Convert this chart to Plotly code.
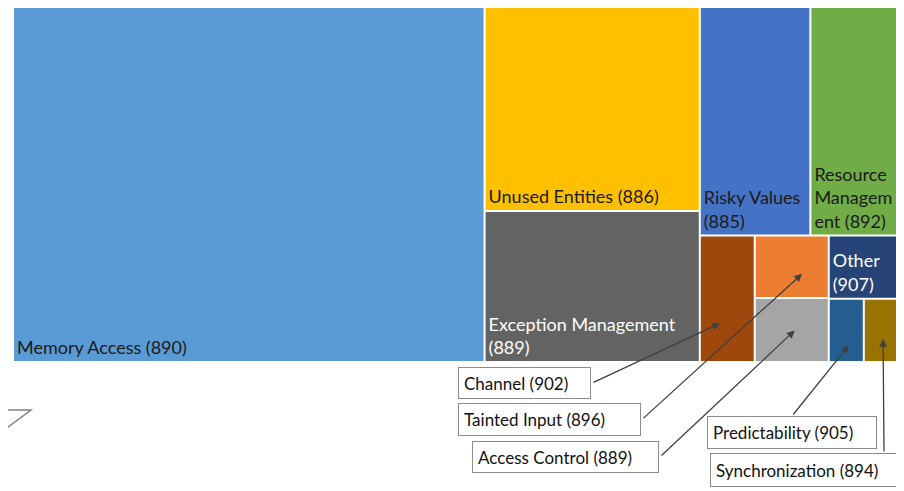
import plotly.graph_objects as go

# treemap hierarchy: three columns, nested rows/columns (slice-dice tiling)
ids = ["Memory Access", "col2", "Unused Entities", "Exception Management",
       "col3", "top", "Risky Values", "Resource Management",
       "bottom", "Channel", "g1", "Tainted Input", "Access Control",
       "g2", "Other", "g3", "Predictability", "Synchronization"]
parents = ["", "", "col2", "col2",
           "", "col3", "top", "top",
           "col3", "bottom", "bottom", "g1", "g1",
           "bottom", "g2", "g2", "g3", "g3"]
# sizes estimated from the tile areas
values = [166.3, 0, 43.6, 32.3,
          0, 0, 25.1, 20.8,
          0, 6.9, 0, 4.6, 4.7,
          0, 4.6, 0, 2.2, 2.4]
# category ids shown in brackets
cwe = {"Memory Access": 890, "Unused Entities": 886, "Exception Management": 889,
       "Risky Values": 885, "Resource Management": 892, "Channel": 902,
       "Tainted Input": 896, "Access Control": 889, "Other": 907,
       "Predictability": 905, "Synchronization": 894}
colors = {"Memory Access": "#5B9BD5", "Unused Entities": "#FFC000",
          "Exception Management": "#636363", "Risky Values": "#4472C4",
          "Resource Management": "#70AD47", "Channel": "#9E480E",
          "Tainted Input": "#ED7D31", "Access Control": "#A5A5A5",
          "Other": "#264478", "Predictability": "#255E91",
          "Synchronization": "#997300"}
# labels drawn inside the tiles (with the wrapping seen in the picture)
inside = {"Memory Access": "Memory Access (890)",
          "Unused Entities": "Unused Entities (886)",
          "Exception Management": "Exception Management<br>(889)",
          "Risky Values": "Risky Values<br>(885)",
          "Resource Management": "Resource<br>Managem<br>ent (892)",
          "Other": "Other<br>(907)"}
white_text = ["Exception Management", "Other"]

# callout boxes for the small tiles: left, top, width, height, attach point, tip (fraction of tile)
callouts = [
    ("Channel", 458, 367, 133, 32, "right", 0.38, 0.70),
    ("Tainted Input", 458, 403, 183, 33, "right", 0.65, 0.62),
    ("Access Control", 472, 441, 187, 32, "right", 0.55, 0.52),
    ("Predictability", 707, 416, 170, 33, (85, 0), 0.60, 0.75),
    ("Synchronization", 710, 453, 193, 34, (174, 0), 0.53, 0.65),
]

SW, SH = 904, 491                  # browser window
OFF = 8                            # page body margin, figure sits 8px in
W, H = SW - OFF, SH - OFF
X0, Y0, X1, Y1 = 14, 8, 901, 361   # treemap area in window px

# replicate slice-dice tiling to know where the tiles are
children = {}
for i, p in zip(ids, parents):
    children.setdefault(p, []).append(i)
val = dict(zip(ids, values))


def total(n):
    return val.get(n, 0) + sum(total(c) for c in children.get(n, []))


rects = {}


def tile(n, x0, y0, x1, y1, depth):
    rects[n] = (x0, y0, x1, y1)
    kids = children.get(n, [])
    t = sum(total(c) for c in kids)
    pos = x0 if depth % 2 == 0 else y0
    for c in kids:
        if depth % 2 == 0:
            w = (x1 - x0) * total(c) / t
            tile(c, pos, y0, pos + w, y1, depth + 1)
            pos += w
        else:
            h = (y1 - y0) * total(c) / t
            tile(c, x0, pos, x1, pos + h, depth + 1)
            pos += h


tile("", X0, Y0, X1, Y1, 0)

leaf_colors = [colors.get(i, "white") for i in ids]
texts = [inside.get(i, "") for i in ids]
text_cols = ["white" if i in white_text else "#1a1a1a" for i in ids]

fig = go.Figure()
fig.add_trace(go.Scatter(x=[], y=[], hoverinfo="skip", showlegend=False))
fig.add_trace(go.Treemap(
    ids=ids, labels=ids, parents=parents, values=values,
    branchvalues="remainder", sort=False,
    text=texts, textinfo="text", textposition="bottom left",
    textfont=dict(family="Lato", size=18, color=text_cols),
    marker=dict(colors=leaf_colors, line=dict(width=0),
                pad=dict(t=0, l=0, r=0, b=0)),
    tiling=dict(packing="slice-dice", pad=2),
    pathbar=dict(visible=False),
    hoverinfo="skip",
    domain=dict(x=[(X0 - OFF) / W, (X1 - OFF) / W],
                y=[1 - (Y1 - OFF) / H, 1 - (Y0 - OFF) / H]),
))

for name, bx, by, bw, bh, side, fx, fy in callouts:
    pad = 5
    fig.add_annotation(
        x=bx, y=by, xref="x", yref="y", xanchor="left", yanchor="top",
        text=f"{name} ({cwe[name]})", showarrow=False, align="left",
        width=bw - 2 * pad - 2, height=bh - 2 * pad - 2,
        bgcolor="white", bordercolor="#8c8c8c", borderwidth=1, borderpad=pad,
        font=dict(family="Lato", size=17, color="#111111"))
    if side == "right":
        sx, sy = bx + bw + 1, by + bh / 2
    else:
        sx, sy = bx + side[0], by + side[1]
    rx0, ry0, rx1, ry1 = rects[name]
    tx, ty = rx0 + fx * (rx1 - rx0), ry0 + fy * (ry1 - ry0)
    fig.add_annotation(
        x=tx, y=ty, ax=sx, ay=sy, xref="x", yref="y", axref="x", ayref="y",
        text="", showarrow=True, arrowhead=2, arrowsize=1.2, arrowwidth=1.3,
        arrowcolor="#404040", standoff=0)

# stray callout corner at the lower left edge
fig.add_shape(type="path", path="M 0 410 L 31 410 L 0 433", xref="x", yref="y",
              line=dict(color="#808080", width=1.5))

fig.update_layout(
    width=W, height=H, margin=dict(l=0, r=0, t=0, b=0),
    paper_bgcolor="white", plot_bgcolor="rgba(0,0,0,0)",
    xaxis=dict(range=[OFF, OFF + W], visible=False, fixedrange=True),
    yaxis=dict(range=[OFF + H, OFF], visible=False, fixedrange=True),
    showlegend=False,
)

fig.write_html("out.html")
